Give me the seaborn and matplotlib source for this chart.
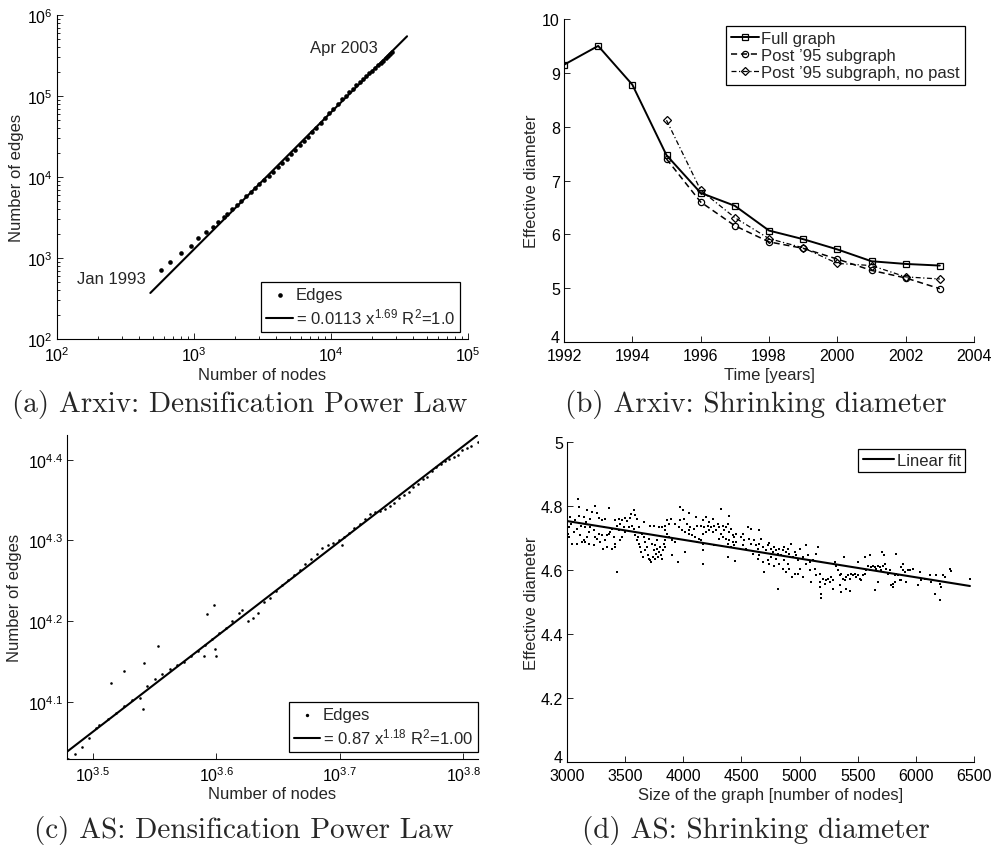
import numpy as np
import pandas as pd
import matplotlib
matplotlib.use("Agg")
import matplotlib.pyplot as plt
import seaborn as sns
from matplotlib.ticker import (FixedLocator, FixedFormatter, NullLocator,
                               LogLocator, LogFormatterMathtext, FormatStrFormatter)

# ---------------- data ----------------
# (a) Arxiv densification
arxiv_nodes = [572, 668, 809, 946, 1076, 1230, 1368, 1506, 1648,
               1750, 1900, 2050, 2200, 2400, 2600, 2800, 3000, 3250, 3500,
               3800, 4100, 4400, 4750, 5100, 5500, 5900, 6350, 6800, 7300,
               7800, 8400, 9000, 9700, 10400, 11200, 12000, 12800, 13600, 14400,
               15300, 16200, 17100, 18000, 19000, 20000, 21000, 22000, 23000, 24000,
               25000, 26000, 27000, 28000]
arxiv_edges = [718, 885, 1142, 1419, 1750, 2113, 2437, 2812, 3178,
               3500, 3970, 4470, 5030, 5760, 6520, 7300, 8120, 9190, 10290,
               11690, 13140, 14810, 16860, 19000, 21850, 24590, 28160, 31620, 36060,
               40790, 46770, 53160, 61040, 69450, 79630, 90560, 100970, 111840, 123200,
               134950, 148640, 160990, 175550, 190170, 204990, 222620, 238060, 256650, 272650,
               292100, 308600, 328900, 345700]
arxiv_fit_nodes = [480, 35900]
arxiv_fit_edges = [370, 546000]

# (b) Arxiv effective diameter
years_full = [1992, 1993, 1994, 1995, 1996, 1997, 1998, 1999, 2000, 2001, 2002, 2003]
diam_full = [9.15, 9.50, 8.78, 7.47, 6.77, 6.53, 6.07, 5.91, 5.72, 5.50, 5.45, 5.42]
years_post = [1995, 1996, 1997, 1998, 1999, 2000, 2001, 2002, 2003]
diam_post = [7.40, 6.60, 6.16, 5.86, 5.74, 5.54, 5.33, 5.19, 4.99]
diam_nopast = [8.12, 6.82, 6.31, 5.92, 5.75, 5.46, 5.42, 5.21, 5.17]

# (c) AS densification
as_nodes = [3020, 3060, 3100, 3140, 3180, 3200, 3250, 3300, 3350, 3400,
            3450, 3500, 3550, 3600, 3650, 3700, 3750, 3800, 3850, 3900,
            3950, 4000, 4050, 4100, 4150, 4180, 4220, 4260, 4300, 4350,
            4400, 4450, 4500, 4550, 4600, 4650, 4700, 4750, 4800, 4850,
            4900, 4950, 5000, 5050, 5100, 5150, 5200, 5250, 5300, 5350,
            5400, 5450, 5500, 5550, 5600, 5650, 5700, 5750, 5800, 5850,
            5900, 5950, 6000, 6050, 6100, 6150, 6200, 6250, 6300, 6350,
            6400, 6490,
            3268, 3354, 3477, 3571, 3471, 3913, 3963, 3888, 3973, 3975, 5029]
as_edges = [10700, 10857, 11047, 11345, 11676, 11763, 11979, 12196, 12445, 12638,
            12738, 13166, 13417, 13610, 13804, 13964, 14119, 14343, 14531, 14791,
            15049, 15308, 15535, 15834, 16210, 16345, 15860, 15966, 16218, 16746,
            16935, 17287, 17552, 17824, 18055, 18328, 18646, 18923, 19204, 19530,
            19720, 19820, 19967, 20156, 20389, 20673, 20912, 21198, 21488, 21627,
            21717, 21847, 22034, 22222, 22510, 22692, 22928, 23220, 23408, 23755,
            23936, 24348, 24640, 24831, 25012, 25197, 25319, 25500, 25861, 25986,
            26106, 26415,
            13278, 13733, 14070, 14770, 12328, 16170, 16605, 14330, 14631, 14330, 19688]
as_fit_nodes = [3013, 6486]
as_fit_edges = [10914, 26977]

# (d) AS effective diameter vs graph size
as_size = [
    3094, 3100, 3238, 3358, 3574, 3975, 3995, 4047, 4110, 3175,
    3215, 3258, 3146, 3201, 3272, 3301, 3330, 3028, 3037, 3071,
    3100, 3123, 3152, 3163, 3416, 3444, 3459, 3473, 3502, 3516,
    3539, 3553, 3588, 3602, 3622, 3660, 3717, 3746, 3789, 3817,
    3846, 3860, 3875, 3898, 3846, 3860, 3932, 3975, 4004, 4033,
    4061, 4090, 4119, 3961, 3990, 4018, 4047, 4076, 4104, 4133,
    3000, 3014, 3008, 3020, 3043, 3057, 3086, 3114, 3143, 3158,
    3172, 3186, 3201, 3229, 3244, 3258, 3272, 3287, 3301, 3315,
    3330, 3344, 3358, 3373, 3387, 3401, 3416, 3430, 3444, 3459,
    3473, 3487, 3502, 3531, 3559, 3574, 3588, 3611, 3000, 3086,
    3129, 3186, 3229, 3307, 3344, 3387, 3416, 3602, 3617, 3631,
    3640, 3651, 3668, 3674, 3688, 3697, 3708, 3717, 3726, 3737,
    3746, 3754, 3766, 3774, 3783, 3794, 3803, 3812, 3823, 3832,
    3840, 3774, 3731, 3703, 3660, 3645, 3846, 3903, 3817, 3754,
    3875, 3903, 3932, 3955, 4013, 4047, 4119, 3430,
    4325, 4391, 4196, 4254, 4225, 4168, 4153, 4182, 4211, 4239,
    4268, 4297, 4311, 4340, 4354, 4368, 4383, 4397, 4411, 4426,
    4440, 4454, 4282, 4254, 4225, 4196, 4168, 4325, 4340, 4368,
    4397, 4426, 4311, 4153, 4173, 4168, 4173, 4268, 4383, 4411,
    4440, 4454, 4383, 4449, 4555, 4584, 4650, 4512, 4497, 4526,
    4569, 4584, 4612, 4627, 4641, 4655, 4670, 4684, 4713, 4727,
    4741, 4756, 4770, 4784, 4799, 4813, 4827, 4842, 4856, 4870,
    4885, 4899, 4913, 4928, 4942, 4957, 4971, 4985, 5000, 5028,
    5051, 5071, 5086, 5114, 5143, 5157, 4512, 4540, 4598, 4641,
    4655, 4684, 4698, 4727, 4741, 4756, 4784, 4799, 4827, 4856,
    4870, 4885, 4899, 4913, 4936, 4957, 4985, 5000, 5028, 5057,
    5086, 5129, 5143, 5172, 5177, 5200, 5215, 5229, 5243, 5258,
    5272, 5286, 5172, 5186, 5186, 5286, 4813, 5100,
    5301, 5315, 5381, 5502, 5559, 5602, 5711, 5726, 5832, 5889,
    5330, 5344, 5358, 5373, 5387, 5401, 5416, 5430, 5444, 5459,
    5473, 5487, 5502, 5516, 5530, 5545, 5559, 5573, 5588, 5602,
    5617, 5631, 5645, 5660, 5674, 5688, 5703, 5717, 5731, 5746,
    5760, 5774, 5789, 5803, 5817, 5832, 5846, 5860, 5875, 5889,
    5903, 5918, 5932, 5946, 5975, 6018, 6033, 6047, 6076, 6119,
    6133, 6176, 6205, 6219, 6233, 6248, 6291, 6299, 6463, 5344,
    5353, 5401, 5430, 5645, 6162, 6205, 5803, 5875, 5817, 5674]
as_diam = [
    4.821, 4.797, 4.800, 4.793, 4.788, 4.797, 4.788, 4.779, 4.766, 4.786,
    4.781, 4.779, 4.766, 4.760, 4.763, 4.755, 4.760, 4.766, 4.745, 4.755,
    4.768, 4.739, 4.734, 4.750, 4.755, 4.760, 4.745, 4.757, 4.763, 4.753,
    4.763, 4.776, 4.771, 4.760, 4.734, 4.750, 4.739, 4.739, 4.734, 4.734,
    4.739, 4.755, 4.745, 4.760, 4.724, 4.713, 4.745, 4.755, 4.760, 4.745,
    4.734, 4.729, 4.739, 4.734, 4.724, 4.719, 4.713, 4.708, 4.703, 4.698,
    4.750, 4.734, 4.713, 4.703, 4.682, 4.719, 4.729, 4.708, 4.693, 4.687,
    4.703, 4.719, 4.734, 4.724, 4.703, 4.698, 4.713, 4.687, 4.708, 4.734,
    4.693, 4.708, 4.713, 4.719, 4.729, 4.703, 4.682, 4.739, 4.724, 4.693,
    4.703, 4.734, 4.719, 4.734, 4.739, 4.729, 4.708, 4.703, 4.677, 4.682,
    4.687, 4.682, 4.677, 4.667, 4.672, 4.667, 4.672, 4.693, 4.682, 4.672,
    4.656, 4.640, 4.661, 4.687, 4.672, 4.646, 4.635, 4.630, 4.625, 4.640,
    4.661, 4.677, 4.651, 4.667, 4.640, 4.656, 4.672, 4.646, 4.661, 4.682,
    4.693, 4.693, 4.682, 4.698, 4.703, 4.713, 4.672, 4.646, 4.635, 4.635,
    4.703, 4.693, 4.687, 4.625, 4.656, 4.724, 4.687, 4.594,
    4.792, 4.768, 4.766, 4.760, 4.750, 4.755, 4.739, 4.734, 4.739, 4.734,
    4.739, 4.745, 4.734, 4.739, 4.724, 4.734, 4.745, 4.719, 4.729, 4.708,
    4.703, 4.713, 4.724, 4.719, 4.724, 4.719, 4.713, 4.713, 4.703, 4.698,
    4.693, 4.687, 4.698, 4.693, 4.682, 4.661, 4.620, 4.677, 4.682, 4.672,
    4.677, 4.687, 4.640, 4.627, 4.734, 4.729, 4.724, 4.713, 4.703, 4.693,
    4.698, 4.682, 4.693, 4.677, 4.667, 4.682, 4.698, 4.672, 4.661, 4.677,
    4.684, 4.667, 4.656, 4.672, 4.661, 4.651, 4.667, 4.646, 4.661, 4.672,
    4.656, 4.667, 4.651, 4.682, 4.640, 4.656, 4.646, 4.630, 4.667, 4.640,
    4.677, 4.646, 4.625, 4.630, 4.651, 4.672, 4.677, 4.667, 4.651, 4.635,
    4.646, 4.625, 4.594, 4.630, 4.620, 4.640, 4.614, 4.635, 4.620, 4.604,
    4.630, 4.594, 4.620, 4.604, 4.578, 4.588, 4.588, 4.604, 4.578, 4.620,
    4.599, 4.604, 4.583, 4.588, 4.562, 4.573, 4.557, 4.568, 4.573, 4.562,
    4.578, 4.568, 4.547, 4.526, 4.513, 4.542, 4.542, 4.562,
    4.625, 4.614, 4.640, 4.625, 4.640, 4.646, 4.656, 4.646, 4.651, 4.620,
    4.599, 4.583, 4.588, 4.573, 4.568, 4.578, 4.583, 4.573, 4.588, 4.583,
    4.588, 4.578, 4.583, 4.573, 4.568, 4.583, 4.588, 4.599, 4.614, 4.599,
    4.609, 4.614, 4.609, 4.604, 4.614, 4.609, 4.599, 4.614, 4.620, 4.604,
    4.588, 4.599, 4.552, 4.547, 4.583, 4.588, 4.583, 4.568, 4.609, 4.599,
    4.594, 4.562, 4.599, 4.599, 4.604, 4.552, 4.594, 4.568, 4.573, 4.583,
    4.562, 4.583, 4.557, 4.547, 4.583, 4.578, 4.604, 4.597, 4.573, 4.552,
    4.531, 4.542, 4.534, 4.536, 4.526, 4.507, 4.555, 4.568, 4.562, 4.562]
as_fit_size = [3000, 6465]
as_fit_diam = [4.753, 4.550]

xticks_c = [3.5, 3.6, 3.7, 3.8]
yticks_c = [4.1, 4.2, 4.3, 4.4]

# ---------------- style ----------------
sns.set_theme(style="ticks")
plt.rcParams["font.family"] = ["Liberation Sans", "DejaVu Sans"]
plt.rcParams["mathtext.fontset"] = "custom"
plt.rcParams["mathtext.rm"] = "Liberation Sans"
plt.rcParams["mathtext.it"] = "Liberation Sans:italic"
plt.rcParams["mathtext.bf"] = "Liberation Sans:bold"
plt.rcParams["legend.edgecolor"] = "black"
plt.rcParams["legend.fancybox"] = False
plt.rcParams["legend.framealpha"] = 1.0
plt.rcParams["axes.edgecolor"] = "black"

FS = 12
TFS = 11.5

fig = plt.figure(figsize=(9.94, 8.53), dpi=100)
fig.patch.set_facecolor("white")


def px_axes(l, t, r, b):
    return fig.add_axes([l / 994, 1 - b / 853, (r - l) / 994, (b - t) / 853])


axa = px_axes(57, 16, 468, 340)
axb = px_axes(564, 20, 974, 343)
axc = px_axes(67, 436, 478, 760)
axd = px_axes(567, 443, 974, 763)

for ax in (axa, axb, axc, axd):
    ax.set_facecolor("white")
    for s in ("top", "right"):
        ax.spines[s].set_visible(False)
    for s in ("left", "bottom"):
        ax.spines[s].set_color("black")
        ax.spines[s].set_linewidth(0.8)
    ax.tick_params(which="both", direction="in", colors="black",
                   labelsize=TFS, width=0.6)
    ax.tick_params(axis="x", which="both", pad=4.5)
    ax.tick_params(axis="y", which="both", pad=3)
    ax.tick_params(which="major", length=4)
    ax.tick_params(which="minor", length=2.2)


def style_legend(leg):
    fr = leg.get_frame()
    fr.set_edgecolor("black")
    fr.set_linewidth(0.9)
    fr.set_boxstyle("square", pad=0)


# ---------------- (a) ----------------
axa.set_xscale("log")
axa.set_yscale("log")
sns.scatterplot(x=arxiv_nodes, y=arxiv_edges, ax=axa, color="black", s=11,
                marker="o", linewidth=0, label="Edges")
sns.lineplot(x=arxiv_fit_nodes, y=arxiv_fit_edges, ax=axa, color="black",
             linewidth=1.5, label=r"= 0.0113 x$^{1.69}$ R$^{2}$=1.0")
axa.set_xlim(1e2, 1e5)
axa.set_ylim(1e2, 1e6)
for axis in (axa.xaxis, axa.yaxis):
    axis.set_major_locator(LogLocator(base=10, numticks=10))
    axis.set_minor_locator(LogLocator(base=10, subs=np.arange(2, 10), numticks=20))
    axis.set_major_formatter(LogFormatterMathtext())
axa.set_xlabel("Number of nodes", fontsize=FS, labelpad=2.5)
axa.set_ylabel("Number of edges", fontsize=FS, labelpad=2)
axa.text(447, 566, "Jan 1993", fontsize=FS, ha="right", va="center")
axa.text(7030, 392000, "Apr 2003", fontsize=FS, ha="left", va="center")
h, l = axa.get_legend_handles_labels()
leg = axa.legend(h, l, loc="lower right", bbox_to_anchor=(0.98, 0.022),
                 borderaxespad=0, fontsize=FS, handlelength=1.6,
                 handletextpad=0.15, labelspacing=0.3, borderpad=0.3)
style_legend(leg)

# ---------------- (b) ----------------
sns.lineplot(x=years_full, y=diam_full, ax=axb, color="black", linewidth=1.4,
             linestyle="-", marker="s", markersize=4.5, markerfacecolor="none",
             markeredgecolor="black", markeredgewidth=0.9, label="Full graph")
sns.lineplot(x=years_post, y=diam_post, ax=axb, color="black", linewidth=1.1,
             linestyle=(0, (4, 2.5)), marker="o", markersize=4.5,
             markerfacecolor="none", markeredgecolor="black",
             markeredgewidth=0.9, label="Post \u201995 subgraph")
sns.lineplot(x=years_post, y=diam_nopast, ax=axb, color="black", linewidth=0.9,
             linestyle=(0, (4, 2, 1, 2)), marker="D", markersize=4,
             markerfacecolor="none", markeredgecolor="black",
             markeredgewidth=0.9, label="Post \u201995 subgraph, no past")
axb.set_xlim(1992, 2004)
axb.set_ylim(4, 10)
axb.set_xticks([1992, 1994, 1996, 1998, 2000, 2002, 2004])
axb.set_yticks([4, 5, 6, 7, 8, 9, 10])
axb.xaxis.set_minor_locator(NullLocator())
axb.yaxis.set_minor_locator(NullLocator())
axb.get_yticklabels()[0].set_verticalalignment("baseline")
axb.set_xlabel("Time [years]", fontsize=FS, labelpad=2.5)
axb.set_ylabel("Effective diameter", fontsize=FS, labelpad=2)
h, l = axb.get_legend_handles_labels()
leg = axb.legend(h, l, loc="upper right", bbox_to_anchor=(0.978, 0.978),
                 borderaxespad=0, fontsize=FS, handlelength=1.7,
                 handletextpad=0.15, labelspacing=0.12, borderpad=0.3)
style_legend(leg)

# ---------------- (c) ----------------
axc.set_xscale("log")
axc.set_yscale("log")
sns.scatterplot(x=as_nodes, y=as_edges, ax=axc, color="black", s=3.5,
                marker="o", linewidth=0, label="Edges")
sns.lineplot(x=as_fit_nodes, y=as_fit_edges, ax=axc, color="black",
             linewidth=1.5, label=r"= 0.87 x$^{1.18}$ R$^{2}$=1.00")
axc.set_xlim(3013, 6486)
axc.set_ylim(10690, 26960)
axc.xaxis.set_major_locator(FixedLocator([10 ** v for v in xticks_c]))
axc.xaxis.set_major_formatter(FixedFormatter([r"$10^{%g}$" % v for v in xticks_c]))
axc.yaxis.set_major_locator(FixedLocator([10 ** v for v in yticks_c]))
axc.yaxis.set_major_formatter(FixedFormatter([r"$10^{%g}$" % v for v in yticks_c]))
axc.xaxis.set_minor_locator(NullLocator())
axc.yaxis.set_minor_locator(NullLocator())
axc.set_xlabel("Number of nodes", fontsize=FS, labelpad=1.5)
axc.set_ylabel("Number of edges", fontsize=FS, labelpad=4)
h, l = axc.get_legend_handles_labels()
leg = axc.legend(h, l, loc="lower right", bbox_to_anchor=(1.0, 0.022),
                 borderaxespad=0, fontsize=FS, handlelength=1.6,
                 handletextpad=0.15, labelspacing=0.3, borderpad=0.3,
                 markerscale=1.3)
style_legend(leg)

# ---------------- (d) ----------------
sns.scatterplot(x=as_size, y=as_diam, ax=axd, color="black", s=4,
                marker="s", linewidth=0)
sns.lineplot(x=as_fit_size, y=as_fit_diam, ax=axd, color="black",
             linewidth=1.5, label="Linear fit")
axd.set_xlim(3000, 6500)
axd.set_ylim(4, 5)
axd.set_xticks([3000, 3500, 4000, 4500, 5000, 5500, 6000, 6500])
axd.set_yticks([4, 4.2, 4.4, 4.6, 4.8, 5])
axd.yaxis.set_major_formatter(FormatStrFormatter("%g"))
axd.xaxis.set_minor_locator(NullLocator())
axd.yaxis.set_minor_locator(NullLocator())
axd.get_yticklabels()[0].set_verticalalignment("baseline")
axd.set_xlabel("Size of the graph [number of nodes]", fontsize=FS, labelpad=2.5)
axd.set_ylabel("Effective diameter", fontsize=FS, labelpad=1)
h, l = axd.get_legend_handles_labels()
leg = axd.legend(h, l, loc="upper right", bbox_to_anchor=(0.978, 0.978),
                 borderaxespad=0, fontsize=FS, handlelength=1.9,
                 handletextpad=0.15, borderpad=0.25)
style_legend(leg)

# ---------------- captions ----------------
CFS = 21
fig.text(240 / 994, 1 - 405 / 853, "(a) Arxiv: Densification Power Law",
         fontfamily="cmr10", fontsize=CFS, ha="center", va="center")
fig.text(756 / 994, 1 - 405 / 853, "(b) Arxiv: Shrinking diameter",
         fontfamily="cmr10", fontsize=CFS, ha="center", va="center")
fig.text(244 / 994, 1 - 831 / 853, "(c) AS: Densification Power Law",
         fontfamily="cmr10", fontsize=CFS, ha="center", va="center")
fig.text(756 / 994, 1 - 831 / 853, "(d) AS: Shrinking diameter",
         fontfamily="cmr10", fontsize=CFS, ha="center", va="center")

fig.savefig("out.png", dpi=100, facecolor="white")
